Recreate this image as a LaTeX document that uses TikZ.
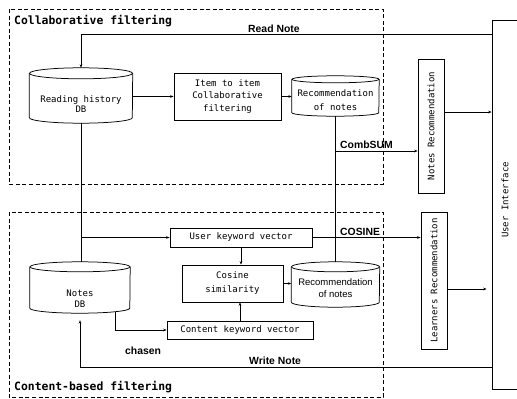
\documentclass[tikz,border=0pt]{standalone}
\usepackage{fontspec}
\usetikzlibrary{arrows.meta}
\newfontfamily\monof{DejaVu Sans Mono}
\newfontfamily\arialf{Liberation Sans}
\newcommand\drawcyl[3]{%
  \draw[boxline] ([yshift=-#2]#1.north west) -- ([yshift=#2]#1.south west)
    arc[start angle=180,end angle=360,x radius=#3,y radius=#2]
    -- ([yshift=-#2]#1.north east);
  \draw[boxline] ([yshift=-#2]#1.north) ellipse[x radius=#3,y radius=#2];
}
\tikzset{
  boxline/.style={line width=0.75pt},
  dashbox/.style={line width=0.7pt,dash pattern=on 4pt off 2.5pt},
  rbox/.style={draw,line width=0.75pt,inner sep=0pt,align=center,
    font=\monof\fontsize{9}{12.5}\selectfont},
  cylnode/.style={inner sep=0pt,draw=none},
  txt/.style={inner sep=0pt,align=center,font=\monof\fontsize{9}{12}\selectfont},
  ttl/.style={inner sep=0pt,anchor=west,font=\monof\bfseries\fontsize{11.4}{13}\selectfont},
  lbl/.style={inner sep=0pt,anchor=base west,font=\arialf\bfseries\fontsize{10.4}{12}\selectfont},
  arr/.style={line width=0.7pt,-{Stealth[length=3.5pt,width=2.6pt]}},
  ln/.style={line width=0.7pt},
}
\begin{document}
\begin{tikzpicture}[x=1pt,y=-1pt]
\useasboundingbox (0,0) rectangle (517,399);
\fill[white] (0,0) rectangle (517,399);
% dashed areas
\draw[dashbox] (9,9) rectangle (383,184);
\draw[dashbox] (9,212) rectangle (383,397);
\node[ttl] (t1) at (14,21) {Collaborative filtering};
\node[ttl] (t2) at (14,387) {Content-based filtering};
% collaborative part
\node[cylnode,minimum width=103pt,minimum height=55pt] (rh) at (81,95.5) {};
\drawcyl{rh}{5.5pt}{51.5pt}
\node[txt,font=\monof\fontsize{9}{10}\selectfont] (rht) at (81,104) {Reading history\\DB};
\node[rbox,minimum width=107pt,minimum height=47pt] (item) at (227.5,96.5) {Item to item\\Collaborative\\filtering};
\node[cylnode,minimum width=87pt,minimum height=40pt] (rec1) at (335.5,96) {};
\drawcyl{rec1}{3.5pt}{43.5pt}
\node[txt,font=\monof\fontsize{9}{13.5}\selectfont] (rec1t) at (335.5,100) {Recommendation\\of notes};
% right side
\node[rbox,minimum width=26pt,minimum height=134pt] (nr) at (431,126) {};
\node[txt,rotate=90] (nrt) at (nr.center) {Notes Recommendation};
\node[rbox,minimum width=26pt,minimum height=137pt] (lr) at (434,280.5) {};
\node[txt,rotate=90] (lrt) at (lr.center) {Learners Recommendation};
\node[rbox,minimum width=48pt,minimum height=369pt] (ui) at (516,204.5) {};
\node[txt,rotate=90] (uit) at (505,200) {User Interface};
% content part
\node[rbox,minimum width=142pt,minimum height=19pt] (uk) at (241,237.5) {User keyword vector};
\node[rbox,minimum width=101pt,minimum height=37pt,font=\monof\fontsize{9}{14}\selectfont] (cs) at (232.5,283.5) {Cosine\\similarity};
\node[rbox,minimum width=146pt,minimum height=18pt] (ck) at (240,330) {Content keyword vector};
\node[cylnode,minimum width=88pt,minimum height=45pt] (rec2) at (335.5,284.5) {};
\drawcyl{rec2}{5pt}{44pt}
\node[txt,font=\arialf\fontsize{9.5}{12}\selectfont] (rec2t) at (335.5,288) {Recommendation\\of notes};
\node[cylnode,minimum width=100pt,minimum height=51pt] (nd) at (80,287.5) {};
\drawcyl{nd}{5pt}{50pt}
\node[txt,font=\monof\fontsize{9}{11}\selectfont] (ndt) at (80,298.5) {Notes\\DB};
% connectors
\draw[arr] (ui.west |- 0,34) -| (rh.north);
\node[lbl] (rnl) at (248,32.5) {Read Note};
\draw[arr] (item.west -| rh.east) -- (item.west);
\draw[arr] (item.east) -- (item.east -| rec1.west);
\draw[ln] (rh.south) -- (rh.south |- nd.north);
\coordinate (j) at (rh.south |- uk.west);
\draw[arr] (j) -- (uk.west);
\draw[arr] (uk.east) -- (uk.east -| lr.west);
\node[lbl] (cosl) at (340,235.5) {COSINE};
\draw[arr] (uk.south) -- (uk.south |- cs.north);
\draw[arr] (ck.north) -- (ck.north |- cs.south);
\draw[arr] (cs.east) -- (cs.east -| rec2.west);
\draw[arr] ([xshift=35pt,yshift=1.4pt]nd.south) |- (ck.west);
\node[lbl] (chl) at (125,354) {chasen};
\draw[arr] (ui.west |- 0,367) -| ([yshift=-7pt]nd.south);
\node[lbl] (wnl) at (249,364.5) {Write Note};
\draw[ln] (rec1.south) -- (rec2.north);
\coordinate (c) at (rec1.south |- 0,151);
\draw[arr] (c) -- (c -| nr.west);
\node[lbl] (cbl) at (340,148.5) {CombSUM};
\draw[arr] (nr.east |- 0,112) -- (ui.west |- 0,112);
\draw[arr,shorten >=5pt] (lr.east |- 0,289) -- (ui.west |- 0,289);
\end{tikzpicture}
\end{document}
